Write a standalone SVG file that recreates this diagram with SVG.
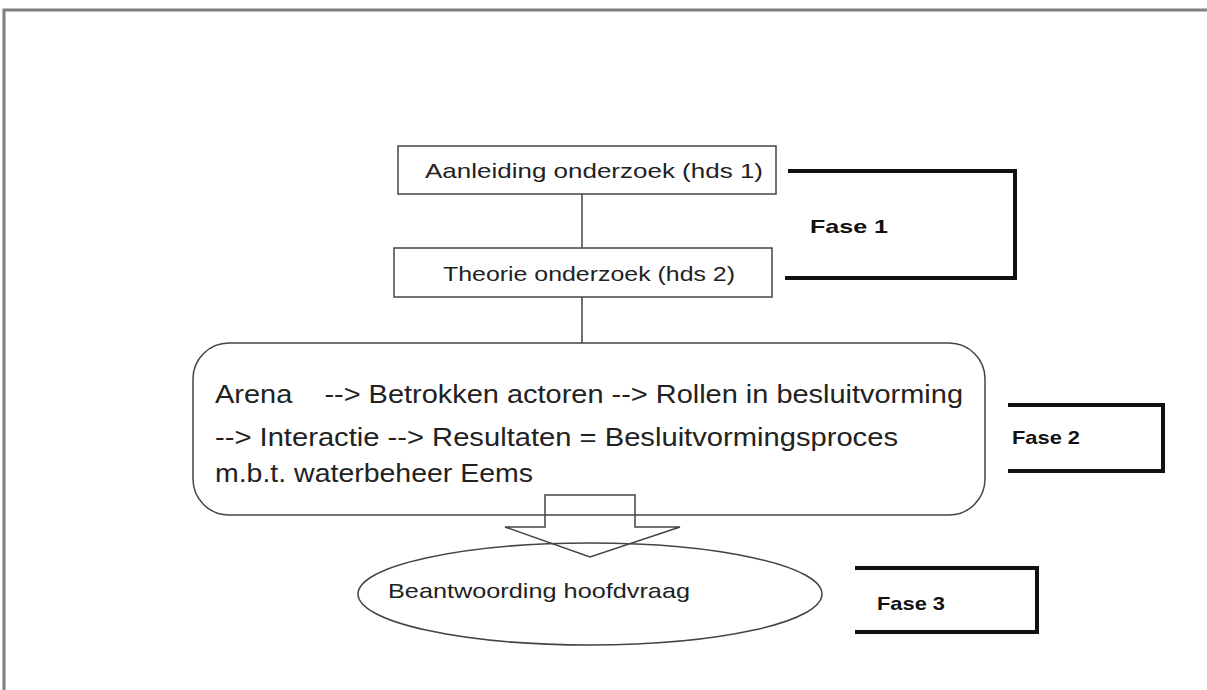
<svg xmlns="http://www.w3.org/2000/svg" width="1207" height="690" viewBox="0 0 1207 690">
<style>
.frame{fill:none;stroke:#7f7f7f;stroke-width:3}
.box{fill:#fff;stroke:#444;stroke-width:1.5}
.line{fill:none;stroke:#444;stroke-width:1.5}
.brk{fill:none;stroke:#111;stroke-width:4}
.t{font-family:"Liberation Sans",Arial,sans-serif;fill:#222;white-space:pre}
.f{font-family:"Liberation Sans",Arial,sans-serif;font-weight:bold;fill:#111;font-size:19px}
</style>
<rect width="1207" height="690" fill="#fff"/>
<path class="frame" d="M4,690 V10 H1207"/>
<g id="connectors">
<line class="line" x1="582" y1="194" x2="582" y2="248"/>
<line class="line" x1="582" y1="297" x2="582" y2="343"/>
</g>
<g id="n1">
<rect class="box" x="398" y="146" width="378" height="48"/>
<text class="t" x="425" y="178" font-size="21" textLength="338" lengthAdjust="spacingAndGlyphs">Aanleiding onderzoek (hds 1)</text>
</g>
<g id="n2">
<rect class="box" x="394" y="248" width="378" height="49"/>
<text class="t" x="443" y="281" font-size="21" textLength="292" lengthAdjust="spacingAndGlyphs">Theorie onderzoek (hds 2)</text>
</g>
<g id="n3">
<rect class="box" x="193" y="343" width="792" height="172" rx="36" ry="36"/>
<text class="t" x="215" y="403" font-size="26" textLength="748" lengthAdjust="spacingAndGlyphs" xml:space="preserve">Arena    --&gt; Betrokken actoren --&gt; Rollen in besluitvorming</text>
<text class="t" x="215" y="446" font-size="26" textLength="683" lengthAdjust="spacingAndGlyphs">--&gt; Interactie --&gt; Resultaten = Besluitvormingsproces</text>
<text class="t" x="215" y="482" font-size="26" textLength="318" lengthAdjust="spacingAndGlyphs">m.b.t. waterbeheer Eems</text>
</g>
<g id="n4">
<ellipse class="box" cx="590" cy="594" rx="232" ry="51"/>
<text class="t" x="388" y="598" font-size="21" textLength="302" lengthAdjust="spacingAndGlyphs">Beantwoording hoofdvraag</text>
</g>
<g id="arrow">
<path d="M545,495 H635 V527 H680 L590,557 L505,527 H545 Z" fill="none" stroke="#444" stroke-width="1.5"/>
</g>
<g id="fase1">
<path class="brk" d="M788,171 H1015 V278 H785"/>
<text class="f" x="810" y="233" textLength="78" lengthAdjust="spacingAndGlyphs">Fase 1</text>
</g>
<g id="fase2">
<path class="brk" d="M1008,405 H1163 V471 H1008"/>
<text class="f" x="1012" y="444" textLength="68" lengthAdjust="spacingAndGlyphs">Fase 2</text>
</g>
<g id="fase3">
<path class="brk" d="M855,568 H1037 V632 H855"/>
<text class="f" x="877" y="610" textLength="68" lengthAdjust="spacingAndGlyphs">Fase 3</text>
</g>
</svg>
